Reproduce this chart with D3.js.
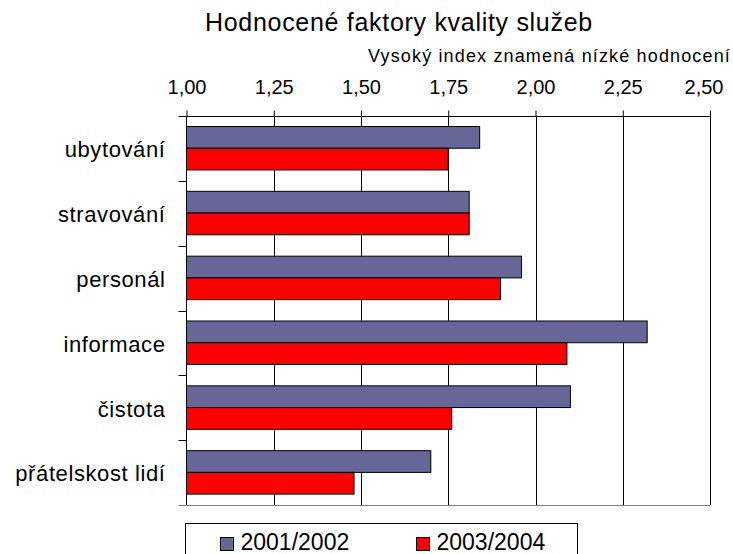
<!DOCTYPE html>
<html>
<head>
<meta charset="utf-8">
<script src="https://cdn.jsdelivr.net/npm/d3@7"></script>
<style>
  body { margin: 0; background: #fff; }
  svg { font-family: "Liberation Sans", Arial, sans-serif; }
</style>
</head>
<body>
<svg width="733" height="554"></svg>
<script>
// data
var categories = ["ubytování", "stravování", "personál", "informace", "čistota", "přátelskost lidí"];
var series = ["2001/2002", "2003/2004"];
var values2001 = [1.84, 1.81, 1.96, 2.32, 2.10, 1.70];
var values2003 = [1.75, 1.81, 1.90, 2.09, 1.76, 1.48];
var tickValues = [1.00, 1.25, 1.50, 1.75, 2.00, 2.25, 2.50];
var colors = ["#666699", "#ff0000"];

//measurements of the plot area
var plotLeft = 186.5, plotRight = 710, plotTop = 116, plotBottom = 505;

var svg = d3.select('svg');

var czech = d3.formatLocale({decimal: ",", thousands: " ", grouping: [3], currency: ["", " Kč"]});
var fmt = czech.format(".2f");

var xScale = d3.scaleLinear()
    .domain([1, 2.5])
    .range([plotLeft, plotRight]);

var yScale = d3.scaleBand()
    .domain(categories)
    .range([plotTop, plotBottom]);

var bw = yScale.bandwidth();
var ySeries = d3.scaleBand()
    .domain(series)
    .range([bw * 0.162, bw * 0.832]);

var rows = categories.map((c, i) => ({cat: c, vals: [values2001[i], values2003[i]]}));

// gridlines
svg.append('g')
    .selectAll('line')
    .data(tickValues.slice(1))
    .enter()
    .append('line')
        .attr('x1', d => Math.round(xScale(d)) + 0.5)
        .attr('x2', d => Math.round(xScale(d)) + 0.5)
        .attr('y1', plotTop)
        .attr('y2', plotBottom)
        .attr('stroke', '#000')
        .attr('stroke-width', 1);

// bottom border
svg.append('line')
    .attr('x1', plotLeft - 8).attr('x2', plotRight + 0.5)
    .attr('y1', plotBottom + 0.5).attr('y2', plotBottom + 0.5)
    .attr('stroke', '#808080');

// bars
var groups = svg.append('g')
    .selectAll('g')
    .data(rows)
    .enter()
    .append('g')
        .attr('transform', d => 'translate(0,' + yScale(d.cat) + ')');

groups.selectAll('rect')
    .data(d => d.vals.map((v, i) => ({key: series[i], v: v, i: i})))
    .enter()
    .append('rect')
        .attr('x', xScale(1))
        .attr('y', d => ySeries(d.key))
        .attr('width', d => xScale(d.v) - xScale(1))
        .attr('height', ySeries.bandwidth())
        .attr('fill', d => colors[d.i])
        .attr('stroke', '#000')
        .attr('stroke-width', 1);

// top axis
var xAxis = d3.axisTop(xScale)
    .tickValues(tickValues)
    .tickFormat(fmt)
    .tickSize(6)
    .tickSizeOuter(0)
    .tickPadding(17);

var gx = svg.append('g')
    .attr('transform', 'translate(0,' + (plotTop + 0.5) + ')')
    .call(xAxis);
gx.select('.domain').attr('d', 'M' + (plotLeft - 8) + ',0H' + plotRight);
gx.selectAll('line').attr('stroke', '#000');
gx.selectAll('path').attr('stroke', '#000');
gx.selectAll('text')
    .attr('fill', '#000')
    .style('font-size', '20px')
    .attr('dy', 0);
gx.selectAll('.tick').filter(d => d === 2.5).select('text')
    .attr('x', -6.5);

// left axis with ticks at the band borders
var gy = svg.append('g');
gy.append('line')
    .attr('x1', plotLeft).attr('x2', plotLeft)
    .attr('y1', plotTop).attr('y2', plotBottom)
    .attr('stroke', '#000');
gy.selectAll('line.tk')
    .data(categories.slice(1))
    .enter()
    .append('line')
        .attr('class', 'tk')
        .attr('x1', plotLeft - 8).attr('x2', plotLeft)
        .attr('y1', d => Math.round(yScale(d)) + 0.5)
        .attr('y2', d => Math.round(yScale(d)) + 0.5)
        .attr('stroke', '#000');
gy.selectAll('text')
    .data(categories)
    .enter()
    .append('text')
        .attr('x', 165.5)
        .attr('y', d => yScale(d) + bw / 2)
        .attr('dy', '0.4em')
        .style('text-anchor', 'end')
        .style('font-size', '22px')
        .style('letter-spacing', '0.6px')
        .text(d => d);

// titles
svg.append('text')
    .attr('x', 205)
    .attr('y', 31)
    .style('font-size', '25px')
    .style('letter-spacing', '0.7px')
    .text('Hodnocené faktory kvality služeb');

svg.append('text')
    .attr('x', 731)
    .attr('y', 62)
    .style('text-anchor', 'end')
    .style('font-size', '18px')
    .style('letter-spacing', '1.15px')
    .text('Vysoký index znamená nízké hodnocení');

// legend
var legend = svg.append('g');
legend.append('rect')
    .attr('x', 185.5).attr('y', 523.5)
    .attr('width', 392).attr('height', 40)
    .attr('fill', '#fff')
    .attr('stroke', '#000');

var items = legend.selectAll('g')
    .data(series)
    .enter()
    .append('g')
        .attr('transform', (d, i) => 'translate(' + [220.5, 416.5][i] + ',537.5)');
items.append('rect')
    .attr('width', 13).attr('height', 13)
    .attr('fill', (d, i) => colors[i])
    .attr('stroke', '#000');
items.append('text')
    .attr('x', 20)
    .attr('y', 12.5)
    .style('font-size', '23px')
    .text(d => d);
</script>
</body>
</html>
